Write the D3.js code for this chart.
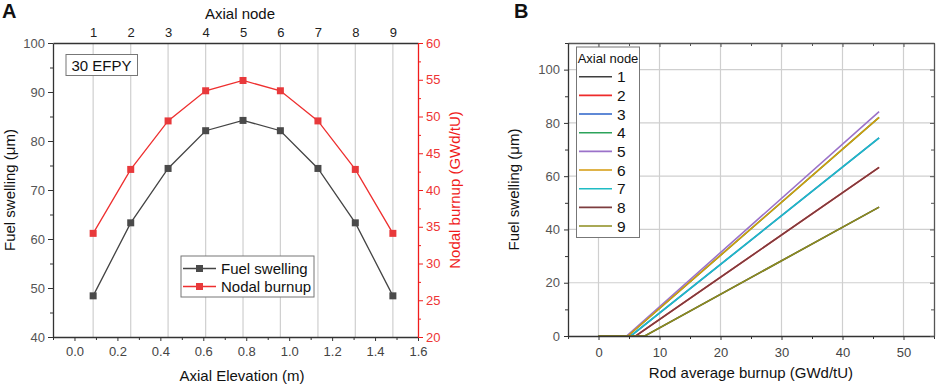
<!DOCTYPE html>
<html>
<head>
<meta charset="utf-8">
<script src="https://cdn.jsdelivr.net/npm/d3@7"></script>
<style>
  body { margin: 0; background: #fff; }
  text { font-family: "Liberation Sans", Arial, sans-serif; }
  .tick text { font-size: 13px; }
</style>
</head>
<body>
<svg width="941" height="387"></svg>
<script>
const svg = d3.select("svg");

// panel A data
const nodes = [1, 2, 3, 4, 5, 6, 7, 8, 9];
const elevation = [0.087, 0.262, 0.436, 0.611, 0.785, 0.959, 1.134, 1.308, 1.483];
const swelling = [48.4, 63.3, 74.4, 82.1, 84.2, 82.1, 74.4, 63.3, 48.4];
const burnup = [34.1, 42.8, 49.4, 53.5, 54.9, 53.5, 49.4, 42.8, 34.1];

// panel B data: onset burnup and swelling at end (46 GWd/tU)
const rodEnd = 46;
const onset = [7.6, 6.1, 5.3, 4.8, 4.6, 4.8, 5.3, 6.1, 7.6];
const endSwelling = [48.4, 63.3, 74.4, 82.1, 84.2, 82.1, 74.4, 63.3, 48.4];
const nodeColors = ["#3f3f3f", "#ee2b2b", "#2a62c9", "#2ca35a", "#9b72c9", "#d49a0c", "#1fbcc4", "#7d3d3f", "#8c8c1e"];

const gridColor = "#cfcfcf";

// ---------- Panel A ----------
const a = { left: 53, right: 418, top: 43, bottom: 337 };
const xA = d3.scaleLinear().domain([-0.1, 1.6]).range([a.left, a.right]);
const yA = d3.scaleLinear().domain([40, 100]).range([a.bottom, a.top]);
const yA2 = d3.scaleLinear().domain([20, 60]).range([a.bottom, a.top]);

const gA = svg.append("g");

// vertical grid at nodes
gA.selectAll(".vgrid").data(elevation).enter().append("line")
  .attr("x1", d => xA(d)).attr("x2", d => xA(d))
  .attr("y1", a.top).attr("y2", a.bottom)
  .attr("stroke", gridColor).attr("stroke-width", 1.2);

const styleAxis = (g, color, lab) => {
  g.selectAll(".domain").attr("stroke", color).attr("stroke-width", 1.3);
  g.selectAll(".tick line").attr("stroke", color);
  g.selectAll(".tick text").attr("fill", lab);
};

// bottom
const xAxisA = gA.append("g").attr("transform", `translate(0,${a.bottom})`)
  .call(d3.axisBottom(xA).tickValues(d3.range(0, 1.61, 0.2)).tickFormat(d3.format(".1f")).tickSize(4).tickSizeOuter(0).tickPadding(6));
styleAxis(xAxisA, "#333", "#444");
gA.append("g").attr("transform", `translate(0,${a.bottom})`)
  .call(d3.axisBottom(xA).tickValues(d3.range(-0.1, 1.6, 0.2)).tickFormat("").tickSize(3).tickSizeOuter(0))
  .call(g => { g.select(".domain").remove(); g.selectAll("line").attr("stroke", "#333"); });

// top
const topAxis = gA.append("g").attr("transform", `translate(0,${a.top})`)
  .call(d3.axisTop(xA).tickValues(elevation).tickFormat((d, i) => nodes[i]).tickSize(0).tickSizeOuter(0).tickPadding(6));
styleAxis(topAxis, "#333", "#222");

// left
const yAxisA = gA.append("g").attr("transform", `translate(${a.left},0)`)
  .call(d3.axisLeft(yA).tickValues(d3.range(40, 101, 10)).tickSize(5).tickSizeOuter(0).tickPadding(3));
styleAxis(yAxisA, "#333", "#555");
gA.append("g").attr("transform", `translate(${a.left},0)`)
  .call(d3.axisLeft(yA).tickValues(d3.range(45, 100, 10)).tickFormat("").tickSize(3).tickSizeOuter(0))
  .call(g => { g.select(".domain").remove(); g.selectAll("line").attr("stroke", "#333"); });

// right (red)
const yAxisA2 = gA.append("g").attr("transform", `translate(${a.right},0)`)
  .call(d3.axisRight(yA2).tickValues(d3.range(20, 61, 5)).tickSize(5).tickSizeOuter(0).tickPadding(3));
styleAxis(yAxisA2, "#f01c1c", "#ee3434");
gA.append("g").attr("transform", `translate(${a.right},0)`)
  .call(d3.axisRight(yA2).tickValues(d3.range(22.5, 60, 5)).tickFormat("").tickSize(3).tickSizeOuter(0))
  .call(g => { g.select(".domain").remove(); g.selectAll("line").attr("stroke", "#f01c1c"); });

// series
const blackLine = "#444";
const redLine = "#ee2f2f";
const lineSw = d3.line().x((d, i) => xA(elevation[i])).y(d => yA(d));
const lineBu = d3.line().x((d, i) => xA(elevation[i])).y(d => yA2(d));
gA.append("path").attr("d", lineBu(burnup)).attr("fill", "none").attr("stroke", redLine).attr("stroke-width", 1.3);
gA.append("path").attr("d", lineSw(swelling)).attr("fill", "none").attr("stroke", blackLine).attr("stroke-width", 1.3);
gA.selectAll(".mb").data(burnup).enter().append("rect")
  .attr("x", (d, i) => xA(elevation[i]) - 3.5).attr("y", d => yA2(d) - 3.5)
  .attr("width", 7).attr("height", 7).attr("fill", "#e8393b");
gA.selectAll(".ms").data(swelling).enter().append("rect")
  .attr("x", (d, i) => xA(elevation[i]) - 3.5).attr("y", d => yA(d) - 3.5)
  .attr("width", 7).attr("height", 7).attr("fill", "#4a4a4a");

// 30 EFPY box
gA.append("rect").attr("x", 66).attr("y", 54.5).attr("width", 71.5).attr("height", 21)
  .attr("fill", "#fff").attr("stroke", "#777").attr("stroke-width", 1);
gA.append("text").attr("x", 101.5).attr("y", 70.5).attr("text-anchor", "middle")
  .attr("font-size", 15).attr("fill", "#111").text("30 EFPY");

// legend A
const legA = gA.append("g");
legA.append("rect").attr("x", 181).attr("y", 256).attr("width", 133).attr("height", 41)
  .attr("fill", "#fff").attr("stroke", "#777");
[["Fuel swelling", blackLine, "#4a4a4a", 268.5], ["Nodal burnup", redLine, "#e8393b", 286.5]].forEach(([t, c, m, y]) => {
  legA.append("line").attr("x1", 183).attr("x2", 216).attr("y1", y).attr("y2", y).attr("stroke", c).attr("stroke-width", 1.3);
  legA.append("rect").attr("x", 196).attr("y", y - 3.5).attr("width", 7).attr("height", 7).attr("fill", m);
  legA.append("text").attr("x", 221).attr("y", y + 5).attr("font-size", 15).attr("fill", "#111").text(t);
});

// titles A
svg.append("text").attr("x", 240).attr("y", 19).attr("text-anchor", "middle").attr("font-size", 15).attr("fill", "#111").text("Axial node");
svg.append("text").attr("x", 242).attr("y", 381).attr("text-anchor", "middle").attr("font-size", 15).attr("fill", "#111").text("Axial Elevation (m)");
svg.append("text").attr("transform", `translate(15,${(a.top + a.bottom) / 2}) rotate(-90)`)
  .attr("text-anchor", "middle").attr("font-size", 15).attr("fill", "#111").text("Fuel swelling (μm)");
svg.append("text").attr("transform", `translate(460,${(a.top + a.bottom) / 2}) rotate(-90)`)
  .attr("text-anchor", "middle").attr("font-size", 15).attr("fill", "#f01c1c").text("Nodal burnup (GWd/tU)");
svg.append("text").attr("x", 2).attr("y", 18).attr("font-size", 20).attr("font-weight", "bold").attr("fill", "#111").text("A");

// ---------- Panel B ----------
const b = { left: 568, right: 934, top: 43, bottom: 336 };
const xB = d3.scaleLinear().domain([-5, 55]).range([b.left, b.right]);
const yB = d3.scaleLinear().domain([0, 110]).range([b.bottom, b.top]);
const gB = svg.append("g");

// grid
gB.selectAll(".gx").data(d3.range(0, 51, 10)).enter().append("line")
  .attr("x1", d => xB(d)).attr("x2", d => xB(d)).attr("y1", b.top).attr("y2", b.bottom)
  .attr("stroke", gridColor).attr("stroke-width", 1.2);
gB.selectAll(".gy").data(d3.range(20, 101, 20)).enter().append("line")
  .attr("x1", b.left).attr("x2", b.right).attr("y1", d => yB(d)).attr("y2", d => yB(d))
  .attr("stroke", gridColor).attr("stroke-width", 1.2);

// lines
const seriesB = nodes.map((n, i) => ({ node: n, pts: [[0, 0], [onset[i], 0], [rodEnd, endSwelling[i]]] }));
const lineB = d3.line().x(d => xB(d[0])).y(d => yB(d[1]));
gB.selectAll(".sb").data(seriesB).enter().append("path")
  .attr("d", d => lineB(d.pts)).attr("fill", "none")
  .attr("stroke", (d, i) => nodeColors[i]).attr("stroke-width", 1.6);

// axes
const bx = gB.append("g").attr("transform", `translate(0,${b.bottom})`)
  .call(d3.axisBottom(xB).tickValues(d3.range(0, 51, 10)).tickSize(4).tickSizeOuter(0).tickPadding(8));
styleAxis(bx, "#333", "#444");
gB.append("g").attr("transform", `translate(0,${b.bottom})`)
  .call(d3.axisBottom(xB).tickValues(d3.range(-5, 56, 10)).tickFormat("").tickSize(3).tickSizeOuter(0))
  .call(g => { g.select(".domain").remove(); g.selectAll("line").attr("stroke", "#333"); });
const bt = gB.append("g").attr("transform", `translate(0,${b.top})`)
  .call(d3.axisTop(xB).tickValues(d3.range(0, 51, 10)).tickFormat("").tickSize(-4).tickSizeOuter(0));
styleAxis(bt, "#555", "#444");
gB.append("g").attr("transform", `translate(0,${b.top})`)
  .call(d3.axisTop(xB).tickValues(d3.range(-5, 56, 10)).tickFormat("").tickSize(-3).tickSizeOuter(0))
  .call(g => { g.select(".domain").remove(); g.selectAll("line").attr("stroke", "#555"); });
const by = gB.append("g").attr("transform", `translate(${b.left},0)`)
  .call(d3.axisLeft(yB).tickValues(d3.range(0, 101, 20)).tickSize(4).tickSizeOuter(0).tickPadding(4));
styleAxis(by, "#333", "#555");
gB.append("g").attr("transform", `translate(${b.left},0)`)
  .call(d3.axisLeft(yB).tickValues(d3.range(10, 111, 20)).tickFormat("").tickSize(3).tickSizeOuter(0))
  .call(g => { g.select(".domain").remove(); g.selectAll("line").attr("stroke", "#333"); });
const byr = gB.append("g").attr("transform", `translate(${b.right},0)`)
  .call(d3.axisRight(yB).tickValues(d3.range(0, 101, 20)).tickFormat("").tickSize(-4).tickSizeOuter(0));
styleAxis(byr, "#555", "#444");
gB.append("g").attr("transform", `translate(${b.right},0)`)
  .call(d3.axisRight(yB).tickValues(d3.range(10, 111, 20)).tickFormat("").tickSize(-3).tickSizeOuter(0))
  .call(g => { g.select(".domain").remove(); g.selectAll("line").attr("stroke", "#555"); });

// legend B
const legB = gB.append("g");
legB.append("rect").attr("x", 576.5).attr("y", 47).attr("width", 63).attr("height", 190.5)
  .attr("fill", "#fff").attr("stroke", "#777");
legB.append("text").attr("x", 608).attr("y", 63).attr("text-anchor", "middle").attr("font-size", 13).attr("fill", "#111").text("Axial node");
nodes.forEach((n, i) => {
  const y = 76.7 + i * 18.67;
  legB.append("line").attr("x1", 579).attr("x2", 612).attr("y1", y).attr("y2", y)
    .attr("stroke", nodeColors[i]).attr("stroke-width", 1.6);
  legB.append("text").attr("x", 617).attr("y", y + 5.5).attr("font-size", 15.5).attr("fill", "#111").text(n);
});

// titles B
svg.append("text").attr("x", 751).attr("y", 378).attr("text-anchor", "middle").attr("font-size", 15).attr("fill", "#111").text("Rod average burnup (GWd/tU)");
svg.append("text").attr("transform", `translate(519,${(b.top + b.bottom) / 2}) rotate(-90)`)
  .attr("text-anchor", "middle").attr("font-size", 15).attr("fill", "#111").text("Fuel swelling (μm)");
svg.append("text").attr("x", 514).attr("y", 18).attr("font-size", 20).attr("font-weight", "bold").attr("fill", "#111").text("B");
</script>
</body>
</html>
